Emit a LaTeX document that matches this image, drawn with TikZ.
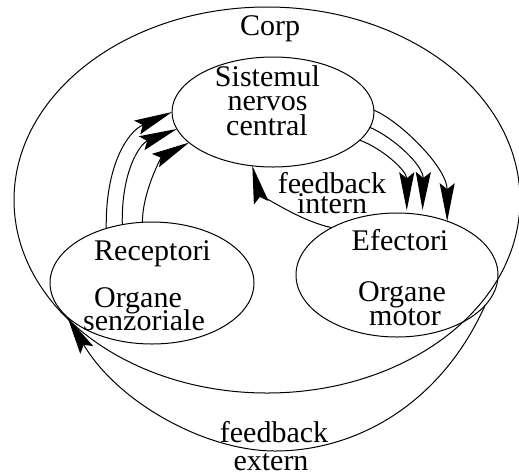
\documentclass[tikz,border=0pt]{standalone}
\usepackage{fontspec}
\setmainfont{Liberation Serif}
\usetikzlibrary{arrows.meta,shapes.geometric}
\tikzset{
  organ/.style={draw,ellipse,inner sep=0pt,outer sep=0pt},
  lbl/.style={anchor=base,inner sep=0pt,font=\fontsize{30}{30}\selectfont},
  flow/.style={arrows={-Stealth[length=38pt,width=15pt,inset=6pt]}}
}
\begin{document}
\begin{tikzpicture}[x=1pt,y=-1pt,line width=1pt]
\useasboundingbox (0,0) rectangle (519,475);

% body and its three parts
\node[organ,minimum width=506pt,minimum height=386pt] (corp) at (267,200) {};
\node[organ,minimum width=202pt,minimum height=110pt] (sn) at (273,112) {};
\node[organ,minimum width=204pt,minimum height=122pt] (rec) at (152,283) {};
\node[organ,minimum width=202pt,minimum height=124pt] (ef) at (397,275) {};

% labels
\node[lbl] (tcorp) at (270,35) {Corp};
\node[lbl] (tsn1) at (267.5,86) {Sistemul};
\node[lbl] (tsn2) at (267.5,110.5) {nervos};
\node[lbl] (tsn3) at (267,135) {central};
\node[lbl] (trec1) at (152.5,260.5) {Receptori};
\node[lbl] (trec2) at (138,307) {Organe};
\node[lbl] (trec3) at (144,330) {senzoriale};
\node[lbl] (tef1) at (400,250.5) {Efectori};
\node[lbl] (tef2) at (402,301.5) {Organe};
\node[lbl] (tef3) at (405,325) {motor};
\node[lbl] (tfi1) at (332,193) {feedback};
\node[lbl] (tfi2) at (332,213) {intern};
\node[lbl] (tfe1) at (274,442.5) {feedback};
\node[lbl] (tfe2) at (271,470) {extern};

% receptors -> central nervous system
\draw[flow] (rec.130.6) .. controls +(-1,-62) and +(-45,20) .. (sn.180);
\draw[flow] (rec.117) .. controls +(-1,-54) and +(-37,15) .. (sn.190);
\draw[flow] (rec.99) .. controls +(0,-30) and +(-28,15) .. (sn.200);

% central nervous system -> effectors
\draw[flow] (sn.1) .. controls +(25,10) and +(0,-54) .. (ef.47);
\draw[flow,shorten >=5pt] (sn.351) .. controls +(23,10) and +(1,-50) .. (ef.67);
\draw[flow,shorten >=3pt] (sn.342) .. controls +(22,8) and +(0,-43) .. (ef.81);

% internal feedback
\draw[flow] (ef.144) .. controls +(-37,-8) and +(6,25) .. (sn.249);

% external feedback
\coordinate (extlow) at (275,451);
\draw[flow] (ef.341.6) .. controls +(-45,100) and +(80,0) .. (extlow)
  .. controls +(-70,0) and +(50,85) .. (rec.202);
\end{tikzpicture}
\end{document}
